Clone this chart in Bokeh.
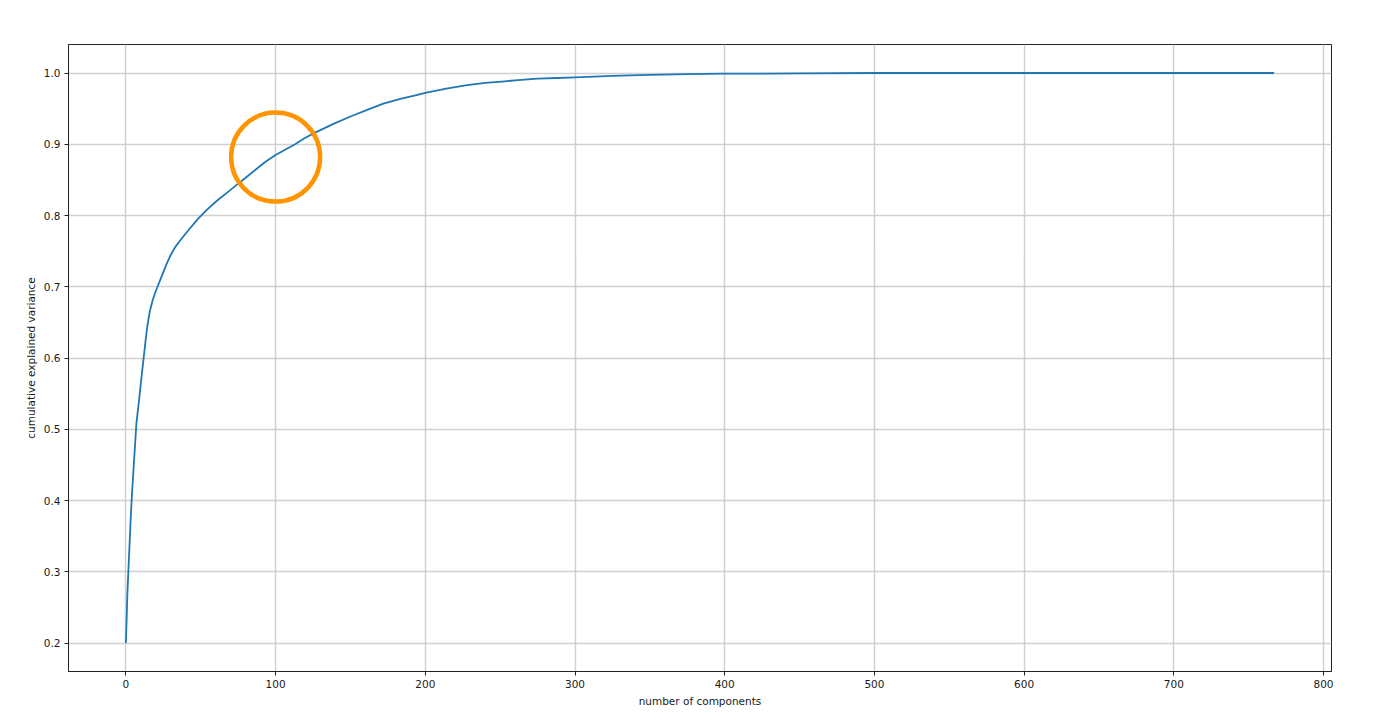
from bokeh.plotting import figure
from bokeh.embed import file_html
from bokeh.resources import INLINE
from bokeh.models import FixedTicker, PrintfTickFormatter, Range1d

# Data
components = [0, 1, 2, 3, 4, 5, 7, 9, 10, 12, 14, 16, 18, 20, 23, 27, 30, 33, 37,
              42, 48, 54, 61, 67, 74, 80, 87, 93, 100, 106, 113, 119, 126, 132,
              139, 150, 162, 172, 184, 192, 200, 214, 228, 240, 251, 262, 275,
              288, 300, 325, 350, 375, 400, 450, 500, 600, 700, 767]
cum_variance = [0.200, 0.270, 0.318, 0.365, 0.407, 0.441, 0.508, 0.545, 0.565,
                0.603, 0.640, 0.666, 0.682, 0.694, 0.710, 0.731, 0.745, 0.756,
                0.767, 0.780, 0.795, 0.808, 0.821, 0.831, 0.843, 0.853, 0.865,
                0.875, 0.885, 0.892, 0.900, 0.908, 0.916, 0.922, 0.929, 0.939,
                0.949, 0.957, 0.964, 0.968, 0.972, 0.978, 0.983, 0.986, 0.988,
                0.990, 0.992, 0.993, 0.994, 0.996, 0.9975, 0.9984, 0.999,
                0.9995, 1.0, 1.0, 1.0, 1.0]

highlight_x = [100]
highlight_y = [0.882]

x_ticks = [0, 100, 200, 300, 400, 500, 600, 700, 800]
y_ticks = [0.2, 0.3, 0.4, 0.5, 0.6, 0.7, 0.8, 0.9, 1.0]

FONT = "DejaVu Sans"
TEXT = "#1a1a1a"

p = figure(
    frame_width=1263, frame_height=627,
    min_border_left=68, min_border_top=44, min_border_right=41, min_border_bottom=42,
    x_range=Range1d(-38.35, 805.35), y_range=Range1d(0.16, 1.04),
    output_backend="svg", toolbar_location=None,
    background_fill_color="white", border_fill_color="white",
)

p.line(components, cum_variance, line_color="#1f77b4", line_width=1.8,
       line_join="round")
p.scatter(highlight_x, highlight_y, marker="circle", size=89, fill_color=None,
          line_color="#ff9400", line_width=4.5)

p.outline_line_color = "#222222"
p.outline_line_width = 1

for ax in (p.xaxis, p.yaxis):
    ax.axis_line_color = "#222222"
    ax.major_tick_line_color = "#222222"
    ax.major_tick_out = 4
    ax.major_tick_in = 0
    ax.minor_tick_line_color = None
    ax.major_label_text_font = FONT
    ax.major_label_text_font_size = "10.5px"
    ax.major_label_text_color = TEXT
    ax.axis_label_text_font = FONT
    ax.axis_label_text_font_size = "10.5px"
    ax.axis_label_text_font_style = "normal"
    ax.axis_label_text_color = TEXT
    ax.major_label_standoff = 4
    ax.axis_label_standoff = 4

p.xaxis.ticker = FixedTicker(ticks=x_ticks)
p.yaxis.ticker = FixedTicker(ticks=y_ticks)
p.yaxis.formatter = PrintfTickFormatter(format="%.1f")
p.xaxis.axis_label = "number of components"
p.yaxis.axis_label = "cumulative explained variance"

p.grid.grid_line_color = "#cccccc"
p.grid.grid_line_width = 1.5
p.grid.grid_line_alpha = 0.9

open("out.html", "w").write(file_html(p, INLINE))
